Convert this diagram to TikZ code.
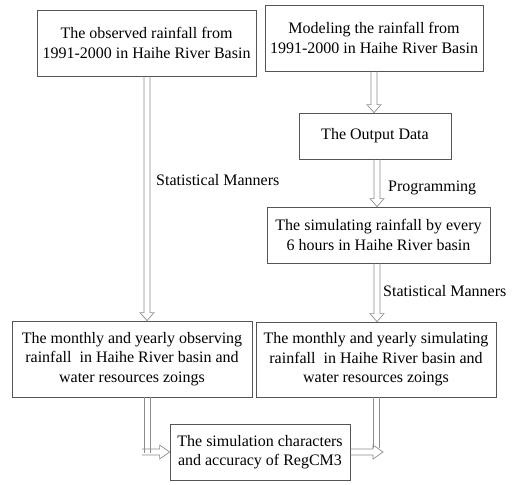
\documentclass[tikz,border=0pt]{standalone}
\usepackage{fontspec}
\setmainfont{Liberation Serif}
\usetikzlibrary{calc}
\definecolor{boxgray}{HTML}{555555}
\definecolor{arrgray}{HTML}{8C8C8C}
\newcommand\vshaft[2]{\draw[conn] let \p1=(#1), \p2=(#2) in (\x1-3pt,\y1) -- (\x1-3pt,\y2) (\x1+3pt,\y1) -- (\x1+3pt,\y2);}
\newcommand\varr[2]{\draw[conn] let \p1=(#1), \p2=(#2) in (\x1-3pt,\y1) -- (\x1-3pt,\y2+8pt) -- (\x1-7pt,\y2+8pt) -- (\x1,\y2) -- (\x1+7pt,\y2+8pt) -- (\x1+3pt,\y2+8pt) -- (\x1+3pt,\y1);}
\newcommand\harr[2]{\draw[conn] let \p1=(#1), \p2=(#2) in (\x1,\y1+3pt) -- (\x2-10pt,\y1+3pt) -- (\x2-10pt,\y1+7pt) -- (\x2,\y1) -- (\x2-10pt,\y1-7pt) -- (\x2-10pt,\y1-3pt) -- (\x1,\y1-3pt);}
\begin{document}
\begin{tikzpicture}[x=1pt,y=-1pt,
  box/.style={draw=boxgray, line width=0.8pt, align=center, inner sep=0pt, font=\fontsize{16}{19.5}\selectfont},
  lbl/.style={font=\fontsize{16}{19.5}\selectfont, inner sep=0pt, anchor=west},
  conn/.style={draw=arrgray, line width=0.7pt}]
\useasboundingbox (0,0) rectangle (518,484);
\node[box, minimum width=219pt, minimum height=66pt] (A) at (146.5,43) {The observed rainfall from\\1991-2000 in Haihe River Basin};
\node[box, minimum width=218pt, minimum height=66pt] (B) at (374,38) {Modeling the rainfall from\\1991-2000 in Haihe River Basin};
\node[box, minimum width=152pt, minimum height=46pt] (C) at (375,136) {The Output Data};
\node[box, minimum width=223pt, minimum height=56pt] (D) at (378.5,235) {The simulating rainfall by every\\6 hours in Haihe River basin};
\node[box, minimum width=240pt, minimum height=76pt] (E) at (132,359) {The monthly and yearly observing\\rainfall\ \ in Haihe River basin and\\water resources zoings};
\node[box, minimum width=240pt, minimum height=75pt] (F) at (376,359.5) {The monthly and yearly simulating\\rainfall\ \ in Haihe River basin and\\water resources zoings};
\node[box, minimum width=180pt, minimum height=56pt] (G) at (260,452) {The simulation characters\\and accuracy of RegCM3};
\node[lbl] (l1) at (156,180) {Statistical Manners};
\node[lbl] (l2) at (388,188) {Programming};
\node[lbl] (l3) at (383,291) {Statistical Manners};
\coordinate (jl) at (147,453);
\coordinate (jl0) at (142,452);
\coordinate (jr) at (376,448);
\coordinate (jre) at (383,452);
\varr{$(A.south)+(0.5,0)$}{E.north}
\varr{B.south}{C.north}
\varr{$(C.south)+(2,0)$}{D.north}
\varr{$(D.south)+(-1.5,0)$}{F.north}
\vshaft{$(E.south)+(15,0)$}{jl}
\harr{jl0}{G.west}
\vshaft{F.south}{jr}
\harr{G.east}{jre}
\end{tikzpicture}
\end{document}
